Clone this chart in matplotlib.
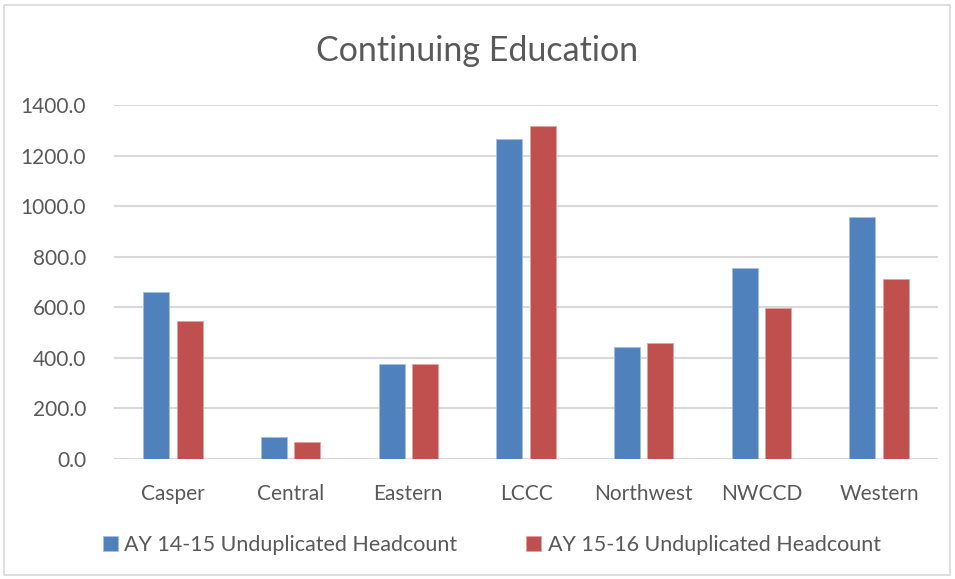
import matplotlib
matplotlib.use("Agg")
import matplotlib.pyplot as plt
import numpy as np
from matplotlib.patches import Rectangle

# data
colleges = ["Casper", "Central", "Eastern", "LCCC", "Northwest", "NWCCD", "Western"]
ay_14_15 = [662, 86, 377, 1264, 444, 754, 956]
ay_15_16 = [545, 66, 375, 1317, 458, 596, 711]
series_names = ["AY 14-15 Unduplicated Headcount", "AY 15-16 Unduplicated Headcount"]
yticks = [0, 200, 400, 600, 800, 1000, 1200, 1400]

BLUE = "#4f81bd"
RED = "#c0504d"
TXT = "#595959"

plt.rcParams['font.family'] = ['Lato', 'DejaVu Sans']

fig = plt.figure(figsize=(9.55, 5.79), dpi=100)
ax = fig.add_axes([114/955, 1 - 459/579, 824/955, 354/579])

x = np.arange(len(colleges))
w = 0.22
ax.bar(x - 0.142, ay_14_15, w, color=BLUE, edgecolor="#a7c0de", linewidth=0.6, label=series_names[0], zorder=3)
ax.bar(x + 0.142, ay_15_16, w, color=RED, edgecolor="#dfa3a2", linewidth=0.6, label=series_names[1], zorder=3)

ax.set_xlim(-0.5, len(colleges) - 0.5)
ax.set_ylim(0, 1400)
ax.set_yticks(yticks)
ax.set_yticklabels([f"{v:.1f}" for v in yticks])
ax.set_xticks(x)
ax.set_xticklabels(colleges)
ax.tick_params(length=0, labelsize=15, colors=TXT)
ax.tick_params(axis="y", pad=20)
ax.tick_params(axis="x", pad=18)
ax.grid(axis="y", color="#d9d9d9", linewidth=1.5, zorder=0)
for s in ax.spines.values():
    s.set_visible(False)

fig.text(0.5, 1 - 51/579, "Continuing Education", ha="center", va="center", fontsize=24.5, color=TXT)

leg = fig.legend(loc="center", bbox_to_anchor=(0.515, 1 - 545/579), ncol=2, frameon=False,
                 fontsize=15.5, handlelength=0.7, handleheight=0.7, handletextpad=0.3,
                 columnspacing=3.2, labelcolor=TXT)

# light chart-area border
fig.patches.append(Rectangle((4/955, 4/579), 946/955, 570/579, transform=fig.transFigure,
                             fill=False, edgecolor="#d9d9d9", linewidth=1.2))

fig.savefig("out.png", dpi=100, facecolor="white")
